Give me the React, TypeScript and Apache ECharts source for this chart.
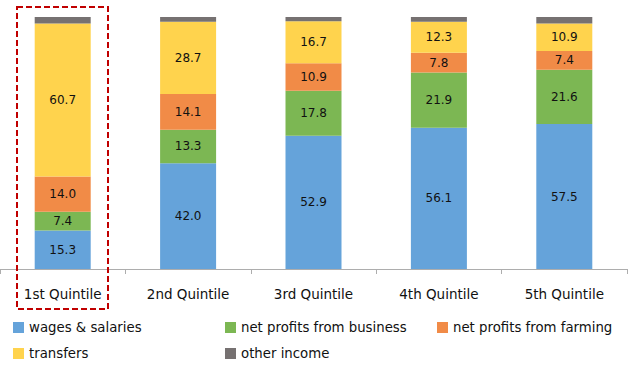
import React, { useEffect, useRef } from "react";
import * as echarts from "echarts";

const categories = ["1st Quintile", "2nd Quintile", "3rd Quintile", "4th Quintile", "5th Quintile"];
const wages = [15.3, 42.0, 52.9, 56.1, 57.5];
const business = [7.4, 13.3, 17.8, 21.9, 21.6];
const farming = [14.0, 14.1, 10.9, 7.8, 7.4];
const transfers = [60.7, 28.7, 16.7, 12.3, 10.9];
const other = [2.6, 1.9, 1.7, 1.9, 2.6];

const seriesNames = [
  "wages & salaries",
  "net profits from business",
  "net profits from farming",
  "transfers",
  "other income",
];
const seriesData = [wages, business, farming, transfers, other];
const colors = ["#65A3DA", "#7CB753", "#F18B47", "#FFD34D", "#767171"];

const FONT = "DejaVu Sans";

export default function App() {
  const ref = useRef<HTMLDivElement>(null);
  useEffect(() => {
    if (!ref.current) return;
    const chart = echarts.init(ref.current, null, { renderer: "svg" });
    const legendPos = [
      { left: 13, top: 321 },
      { left: 225, top: 321 },
      { left: 437, top: 321 },
      { left: 13, top: 347 },
      { left: 225, top: 347 },
    ];
    chart.setOption({
      animation: false,
      color: colors,
      grid: { left: 0, right: 12, top: 17, bottom: 101, containLabel: false },
      xAxis: {
        type: "category",
        data: categories,
        axisLine: { lineStyle: { color: "#ADADAD", width: 1 } },
        axisTick: { show: true, length: 5, lineStyle: { color: "#ADADAD" } },
        axisLabel: { color: "#111", fontFamily: FONT, fontSize: 13.5, margin: 18 },
      },
      yAxis: { type: "value", min: 0, max: 100, show: false, splitLine: { show: false } },
      legend: seriesNames.map((n, i) => ({
        data: [n],
        left: legendPos[i].left,
        top: legendPos[i].top,
        itemWidth: 11,
        itemHeight: 11,
        itemGap: 5,
        icon: "rect",
        padding: 0,
        textStyle: { color: "#111", fontFamily: FONT, fontSize: 13.3 },
        selectedMode: false,
      })),
      series: seriesNames.map((n, i) => ({
        name: n,
        type: "bar",
        stack: "total",
        barWidth: 56,
        data: seriesData[i],
        itemStyle: { color: colors[i] },
        label: {
          show: i < 4,
          position: "inside",
          color: "#111",
          fontFamily: FONT,
          fontSize: 12,
          formatter: (p: any) => Number(p.value).toFixed(1),
        },
      })),
      graphic: [
        {
          type: "rect",
          shape: { x: 17, y: 7, width: 91, height: 302 },
          style: { fill: "none", stroke: "#C00000", lineWidth: 2, lineDash: [6, 3] },
          z: 100,
        },
      ],
    });
    return () => chart.dispose();
  }, []);
  return (
    <div
      ref={ref}
      style={{ position: "fixed", left: 0, top: 0, width: 639, height: 370, background: "#fff" }}
    />
  );
}
